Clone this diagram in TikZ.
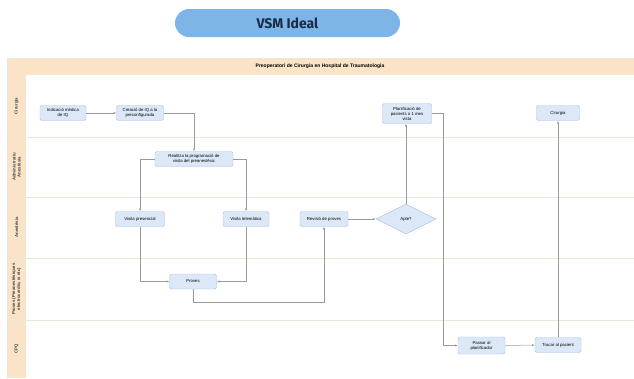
\documentclass[tikz,border=0pt]{standalone}
\usepackage{fontspec}
\setmainfont{Liberation Sans}
\newfontfamily\titlefont{Fira Sans}
\usetikzlibrary{shapes.geometric,arrows.meta}
\definecolor{titleblue}{HTML}{7DB5E8}
\definecolor{titletext}{HTML}{1B2A45}
\definecolor{peach}{HTML}{FBE3C8}
\definecolor{boxfill}{HTML}{DCE8F8}
\definecolor{boxline}{HTML}{A9C1E0}
\definecolor{linegray}{HTML}{9A9A9A}
\definecolor{lanegray}{HTML}{ECE6D6}
\begin{document}
\begin{tikzpicture}[x=1pt,y=-1pt,
  box/.style={draw=boxline, fill=boxfill, rounded corners=1.5pt, line width=0.4pt,
    font=\fontsize{4.3}{5}\selectfont, align=center, inner sep=1pt, minimum height=15pt},
  conn/.style={draw=linegray, line width=0.5pt, -{Latex[length=2.8pt,width=2.2pt]}},
  lanelabel/.style={rotate=90, font=\bfseries\fontsize{4.3}{5}\selectfont, align=center, text=black!75}
]
\useasboundingbox (0,0) rectangle (634,378);
\fill[white] (0,0) rectangle (634,378);

% title
\node[fill=titleblue, rounded corners=14pt, minimum width=225pt, minimum height=28pt, inner sep=0pt, text=titletext]
  (title) at (287.5,23) {\titlefont\bfseries\fontsize{14}{14}\selectfont VSM Ideal};

% pool
\fill[peach] (7,58) rectangle (634,75);
\fill[peach] (7,75) rectangle (26,378);
\draw[lanegray, line width=0.4pt] (7,58) -- (634,58);
\draw[lanegray, line width=0.4pt] (7,58) -- (7,378);
\foreach \yy in {137,197,258,320} \draw[lanegray, line width=0.8pt] (7,\yy) -- (634,\yy);
\node[font=\bfseries\fontsize{5}{6}\selectfont] (pooltitle) at (320,66.5) {Preoperatori de Cirurgia en Hospital de Traumatologia};

\node[lanelabel] (l1) at (16.5,106) {Cirurgia};
\node[lanelabel] (l2) at (16.5,167) {Administratiu\\Anestèsia};
\node[lanelabel] (l3) at (16.5,227.5) {Anestèsia};
\node[lanelabel] (l4) at (16.5,289) {Proves (Preanestèsiques\\electrocardio, rx etc)};
\node[lanelabel] (l5) at (16.5,349) {CPQ};

% nodes
\node[box, minimum width=46pt] (A) at (63,113) {Indicació mèdica\\de IQ};
\node[box, minimum width=47pt] (B) at (140,113) {Creació de IQ a la\\preconfigurada};
\node[box, minimum width=78pt] (C) at (194,159) {Realitza la programació de\\visita del preanestèsic};
\node[box, minimum width=49pt] (D) at (140,219) {Visita presencial};
\node[box, minimum width=46pt] (E) at (246,219) {Visita telemàtica};
\node[box, minimum width=47pt] (F) at (193,281.5) {Proves};
\node[box, minimum width=48pt] (G) at (324,219) {Revisió de proves};
\node[diamond, draw=boxline, fill=boxfill, line width=0.4pt, aspect=2, minimum width=60pt, minimum height=30pt, inner sep=0pt,
  font=\fontsize{4.3}{5}\selectfont] (H) at (406,219) {Apte?};
\node[box, minimum width=49pt, minimum height=20pt] (I) at (407,113.5) {Planificació de\\pacients a 1 mes\\vista};
\node[box, minimum width=47pt, minimum height=17pt] (J) at (481.5,345.5) {Passar al\\planificador};
\node[box, minimum width=46pt] (K) at (558,345) {Trucar al pacient};
\node[box, minimum width=43pt] (L) at (558,113) {Cirurgia};

% connectors
\draw[conn] (A) -- (B);
\draw[conn] (B.east) -| (C.north);
\draw[conn] (C.west) -| (D.north);
\draw[conn] (C.east) -| (E.north);
\draw[conn] (D.south) |- (F.west);
\draw[conn] (E.south) |- (F.east);
\coordinate (fg) at (193,302);
\draw[conn] (F.south) -- (fg) -| (G.south);
\draw[conn] (G) -- (H);
\draw[conn] (H.north) -- (H.north |- I.south);
\coordinate (ij) at (443,113.5);
\draw[conn] (I.east) -- (ij) |- (J.west);
\draw[conn] (J) -- (K);
\draw[conn] (K) -- (L);
\end{tikzpicture}
\end{document}
